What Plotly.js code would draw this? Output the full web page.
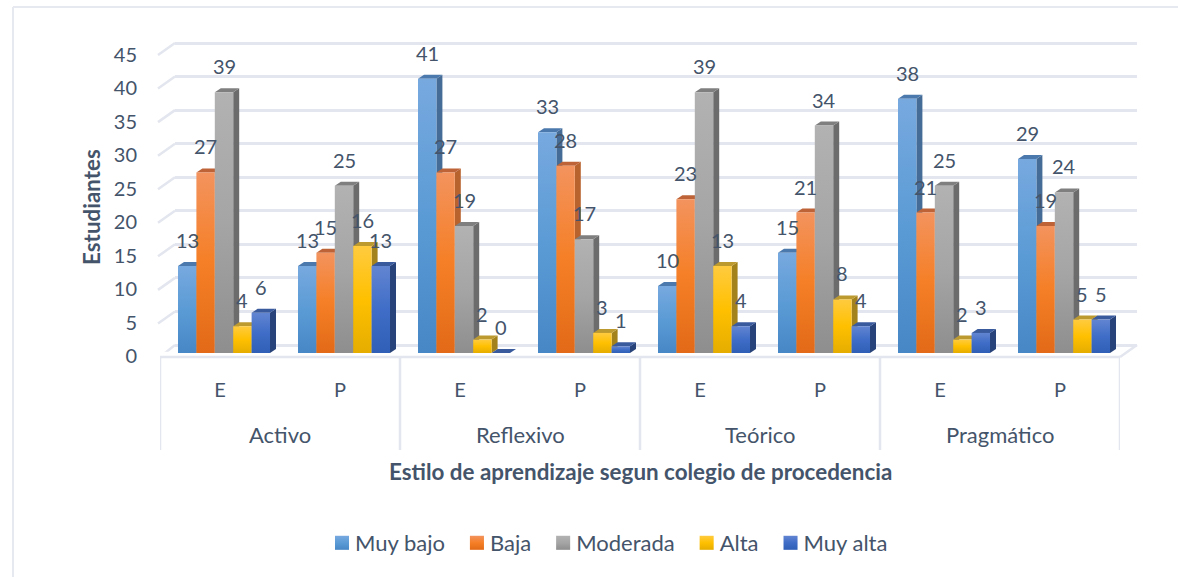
<!DOCTYPE html>
<html><head><meta charset="utf-8">
<script src="https://cdn.plot.ly/plotly-3.0.1.min.js"></script>
<style>html,body{margin:0;padding:0;background:#fff}#c{width:1178px;height:577px}</style>
</head><body><div id="c"></div>
<script>
const styles = ['Activo','Reflexivo','Teórico','Pragmático'];
const subgroups = ['E','P','E','P','E','P','E','P'];
const seriesNames = ['Muy bajo','Baja','Moderada','Alta','Muy alta'];
const muyBajo  = [13,13,41,33,10,15,38,29];
const baja     = [27,15,27,28,23,21,21,19];
const moderada = [39,25,19,17,39,34,25,24];
const alta     = [4,16,2,3,13,8,2,5];
const muyAlta  = [6,13,0,1,4,4,3,5];
const yTicks = [0,5,10,15,20,25,30,35,40,45];
const values = [muyBajo,baja,moderada,alta,muyAlta];

const frontColors = ['#5b9bd5','#f47f28','#a5a5a5','#ffc000','#4472c4'];
const gradStops = [['#77a9df','#5b9bd5','#4787c6'],['#f3935e','#f57f26','#e26a18'],['#b2b2b2','#a5a5a5','#8e8e8e'],['#ffcb3f','#ffc000','#e5ad00'],['#6285d1','#3f6dc7','#2f5fb6']];
const sideColors = ['#456c96','#b8622e','#6c6c6c','#a3821c','#274379'];
const topColors = ['#4c79ad','#bd6337','#7f7f7f','#bd9a2f','#3a5a9e'];
const W=1178,H=577, txt='#44546a', gridC='#e3e6ee', FONT='Lato, "Open Sans", sans-serif';
const barW=18.4/120, startOff=-42/120, dx=6/120, dy=4/6.69;
const px=v=>v/W, py=v=>1-v/H;

const traces=[{type:'scatter',x:[0],y:[yTicks[0]],mode:'none',showlegend:false,hoverinfo:'skip',xaxis:'x',yaxis:'y'}];
const shapes=[], annotations=[];
const line={color:gridC,width:2.5};
// frame
shapes.push({type:'line',xref:'paper',yref:'paper',x0:px(13),x1:1,y0:py(7),y1:py(7),line:{color:'#e6e9f0',width:2},layer:'below'});
shapes.push({type:'line',xref:'paper',yref:'paper',x0:px(13),x1:px(13),y0:py(7),y1:0,line:{color:'#e6e9f0',width:2},layer:'below'});
// wall / floor
yTicks.forEach(v=>shapes.push({type:'line',xref:'paper',yref:'y',x0:px(v===0?160:158),x1:px(175),y0:v-12/6.71,y1:v,line,layer:'below'}));
shapes.push({type:'line',xref:'x2',yref:'paper',x0:-0.5,x1:7.5,y0:py(357),y1:py(357),line,layer:'below'});
shapes.push({type:'line',xref:'paper',yref:'paper',x0:px(1120),x1:px(1137),y0:py(357),y1:py(345),line,layer:'below'});
for(let i=0;i<=8;i+=2) shapes.push({type:'line',xref:'x2',yref:'paper',x0:i-0.5,x1:i-0.5,y0:py(357),y1:py(450),line,layer:'below'});

seriesNames.forEach((name,s)=>{
  const off=startOff+s*barW;
  traces.push({type:'bar',name,x:subgroups.map((_,i)=>i),y:values[s],xaxis:'x2',yaxis:'y2',width:barW,offset:off,
    marker:{color:frontColors[s]},hoverinfo:'y+name'});
  values[s].forEach((v,i)=>{
    const xl=i+off,xr=xl+barW;
    shapes.push({type:'path',xref:'x2',yref:'y2',layer:'below',line:{width:0},fillcolor:sideColors[s],
      path:`M${xr},0L${xr+dx},${dy}L${xr+dx},${v+dy}L${xr},${v}Z`});
    shapes.push({type:'path',xref:'x2',yref:'y2',layer:'below',line:{width:0},fillcolor:topColors[s],
      path:`M${xl},${v}L${xl+dx},${v+dy}L${xr+dx},${v+dy}L${xr},${v}Z`});
    annotations.push({xref:'x2',yref:'y2',x:(xl+xr)/2,y:v,yshift:26,xanchor:'center',yanchor:'middle',text:String(v),showarrow:false,font:{family:FONT,size:20,color:txt}});
  });
});
styles.forEach((t,i)=>annotations.push({xref:'x2',yref:'paper',x:i*2+0.5,y:py(434),xanchor:'center',yanchor:'middle',text:t,showarrow:false,font:{family:FONT,size:22,color:txt}}));
annotations.push({xref:'paper',yref:'paper',x:px(640),y:py(471),xanchor:'center',yanchor:'middle',text:'<b>Estilo de aprendizaje segun colegio de procedencia</b>',showarrow:false,font:{family:FONT,size:22.4,color:txt}});
annotations.push({xref:'paper',yref:'paper',x:px(91),y:py(207),xanchor:'center',yanchor:'middle',textangle:-90,text:'<b>Estudiantes</b>',showarrow:false,font:{family:FONT,size:22.4,color:txt}});

// back-wall scale: 6.711 px per unit, value 0 at pixel y=345
const gridMin=-1, gridMax=46;
const layout={width:W,height:H,margin:{l:0,r:0,t:0,b:0},paper_bgcolor:'#fff',plot_bgcolor:'rgba(0,0,0,0)',
  barmode:'overlay',font:{family:FONT,color:txt,size:20},
  xaxis:{domain:[px(175),px(1137)],range:[0,1],visible:false,fixedrange:true},
  yaxis:{domain:[py(345-gridMin*6.711),py(345-gridMax*6.711)],range:[gridMin,gridMax],tickmode:'array',tickvals:yTicks,showgrid:true,gridcolor:gridC,gridwidth:2.5,zeroline:false,showline:false,showticklabels:false,ticks:'',anchor:'x',fixedrange:true},
  xaxis2:{domain:[px(160),px(1120)],range:[-0.5,7.5],tickmode:'array',tickvals:subgroups.map((_,i)=>i),ticktext:subgroups,showgrid:false,zeroline:false,showline:false,ticks:'',ticklabelstandoff:23,anchor:'y2',fixedrange:true,tickfont:{family:FONT,size:20,color:txt}},
  yaxis2:{domain:[py(353),py(52)],range:[0,45],tickmode:'array',tickvals:yTicks,ticktext:yTicks.map(String),showgrid:false,zeroline:false,showline:false,ticks:'',ticklabelstandoff:22,ticklabelshift:3,anchor:'x2',fixedrange:true,tickfont:{family:FONT,size:20,color:txt}},
  legend:{orientation:'h',x:px(315),xanchor:'left',y:py(543),yanchor:'middle',font:{family:FONT,size:22,color:txt},bgcolor:'rgba(0,0,0,0)',traceorder:'normal'},
  shapes,annotations};

Plotly.newPlot('c',traces,layout,{displayModeBar:false}).then(gd=>{
  const svg=gd.querySelector('svg.main-svg');
  const NS='http://www.w3.org/2000/svg';
  let defs=svg.querySelector('defs');
  gradStops.forEach((st,s)=>{
    const g=document.createElementNS(NS,'linearGradient');
    g.setAttribute('id','barGrad'+s);g.setAttribute('x1','0');g.setAttribute('y1','0');g.setAttribute('x2','0');g.setAttribute('y2','1');
    st.forEach((c,k)=>{const e=document.createElementNS(NS,'stop');e.setAttribute('offset',k/2);e.setAttribute('stop-color',c);g.appendChild(e);});
    defs.appendChild(g);
  });
  gd.querySelectorAll('.barlayer .trace').forEach((t,s)=>{
    t.querySelectorAll('.point path').forEach(p=>{p.style.fill=`url(#barGrad${s})`;});
  });
  gd.querySelectorAll('.legend .traces').forEach((t,s)=>{
    const p=t.querySelector('.legendpoints path');
    if(p){p.style.fill=`url(#barGrad${s})`;p.setAttribute('transform','translate(27,0) scale(1.17)');}
  });
});
</script></body></html>
